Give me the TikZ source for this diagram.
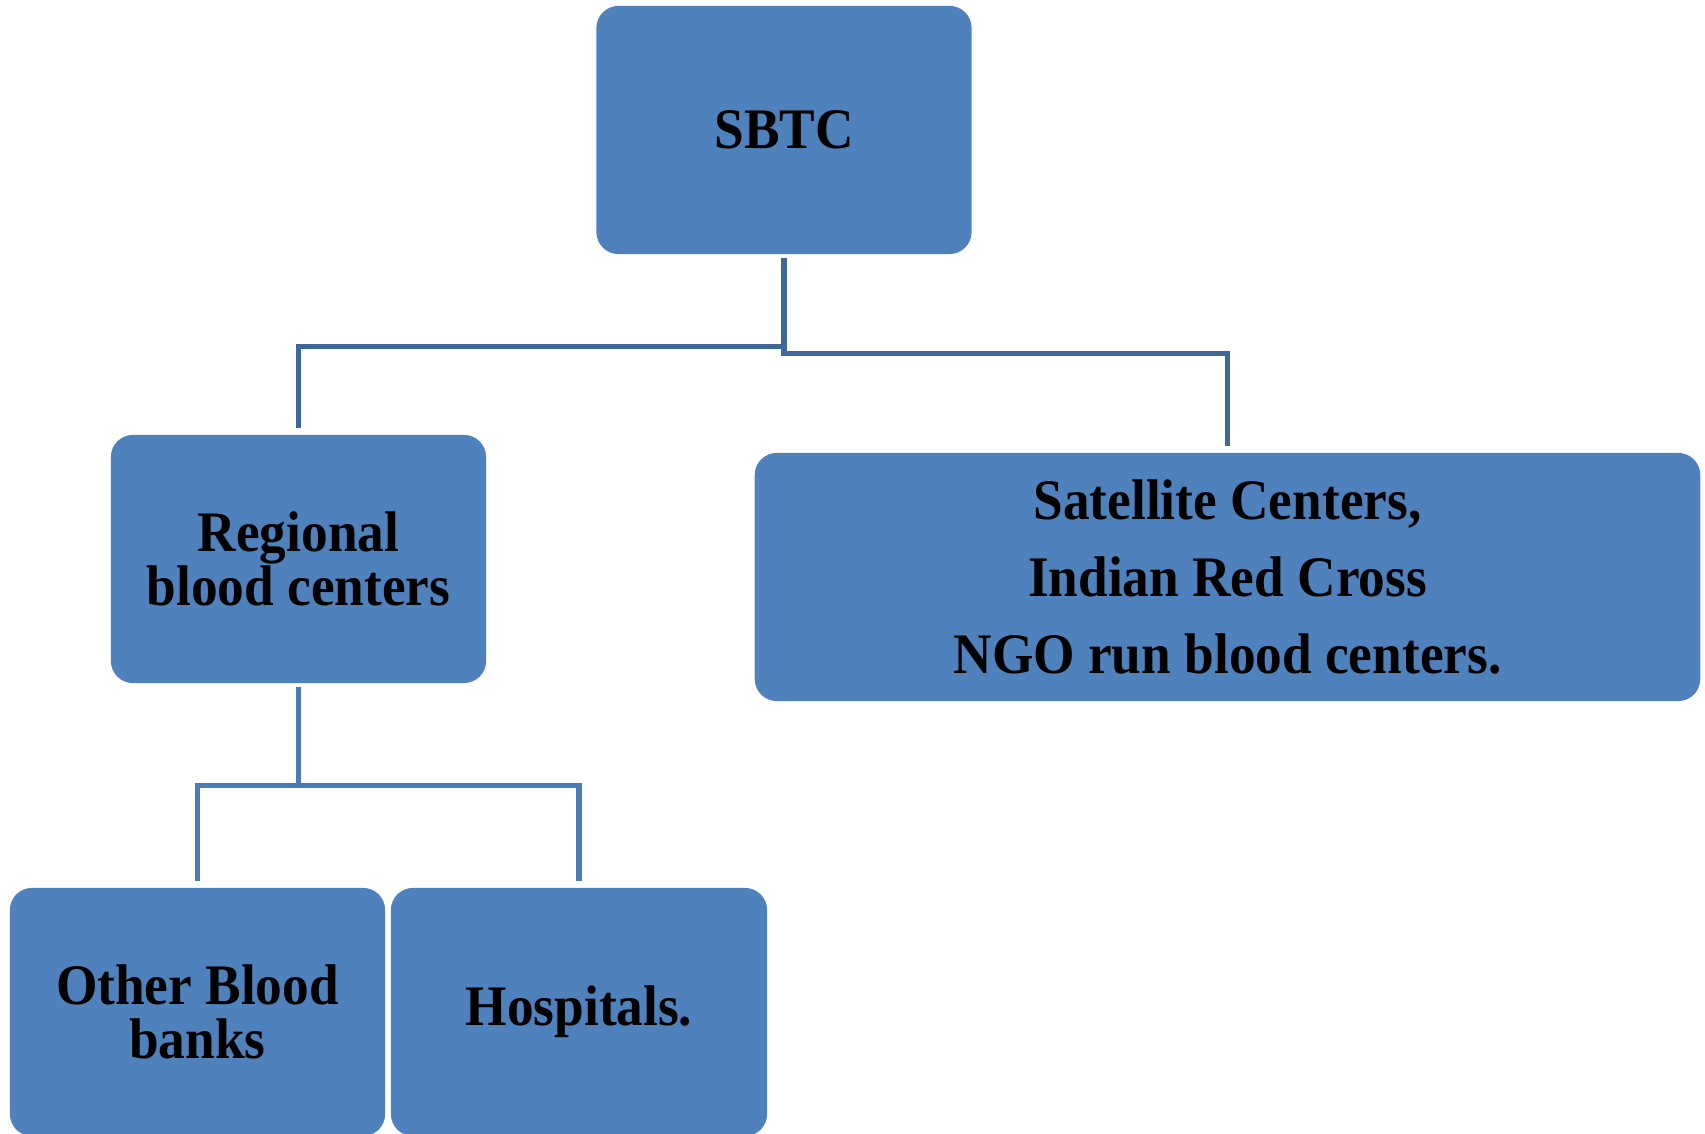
\documentclass[tikz,border=0pt]{standalone}
\usepackage{fontspec}
\setmainfont{Liberation Serif}[FakeStretch=0.93]
\tikzset{ > = stealth }
\usetikzlibrary{positioning}
\definecolor{boxblue}{HTML}{4F81BD}
\definecolor{linkdark}{HTML}{3F6797}
\definecolor{linklight}{HTML}{4A7CB8}

\begin{document}
\begin{tikzpicture}
  [
    x = 0.01cm, y = -0.01cm,
    every node/.style = { font = \bfseries\fontsize{16.3}{15.4}\selectfont, align = center, inner sep = 0pt },
    unit/.style = { fill = boxblue, rounded corners = 0.22cm, minimum width = 3.75cm, minimum height = 2.48cm },
    link/.style = { line width = 1.45pt, shorten < = 0.03cm, shorten > = 0.065cm }
  ]
    \useasboundingbox (0,0) rectangle (1705,1134);
    \node (sbtc) [unit] at (784,130) {SBTC};
    \node (regional) [unit] at (298.5,559) {Regional\\blood centers};
    \node (satellite) [unit, minimum width = 9.45cm, font = \bfseries\fontsize{16.3}{21.8}\selectfont]
      at (1227.5,577) {Satellite Centers,\\Indian Red Cross\\NGO run blood centers.};
    \node (other) [unit] at (197.5,1012) {Other Blood\\banks};
    \node (hospitals) [unit, minimum width = 3.76cm] at (579,1012) {Hospitals.};
    \draw [link, draw = linkdark] (sbtc.south) -- ++(0,92) -| (regional.north);
    \draw [link, draw = linkdark] (sbtc.south) -- ++(0,99) -| (satellite.north);
    \draw [link, draw = linklight] (regional.south) -- ++(0,102) -| (other.north);
    \draw [link, draw = linklight] (regional.south) -- ++(0,102) -| (hospitals.north);
  \end{tikzpicture}
\end{document}
